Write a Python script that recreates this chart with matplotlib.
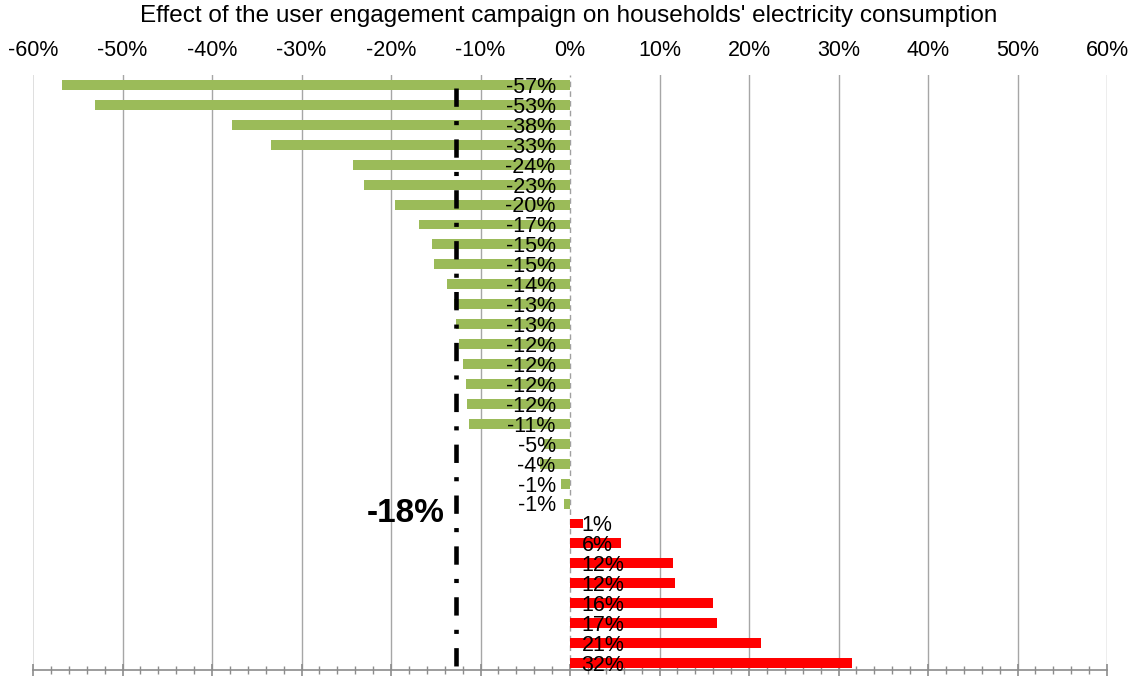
import matplotlib
matplotlib.use("Agg")
import matplotlib.pyplot as plt
from matplotlib.ticker import MultipleLocator, FuncFormatter

plt.rcParams['font.family'] = ['Liberation Sans', 'DejaVu Sans']

# Data (bar lengths in %, and the data labels shown in the chart)
values = [-56.8, -53.1, -37.8, -33.4, -24.2, -23.0, -19.6, -16.9, -15.4, -15.2,
          -13.7, -13.0, -12.7, -12.4, -12.0, -11.6, -11.5, -11.3, -2.9, -3.4,
          -1.0, -0.7, 1.5, 5.7, 11.5, 11.7, 16.0, 16.4, 21.3, 31.5]
labels = ["-57%", "-53%", "-38%", "-33%", "-24%", "-23%", "-20%", "-17%", "-15%", "-15%",
          "-14%", "-13%", "-13%", "-12%", "-12%", "-12%", "-12%", "-11%", "-5%", "-4%",
          "-1%", "-1%", "1%", "6%", "12%", "12%", "16%", "17%", "21%", "32%"]
average_line = -12.7
average_label = "-18%"
title = "Effect of the user engagement campaign on households' electricity consumption"

fig = plt.figure(figsize=(11.33, 6.79), dpi=100)
ax = fig.add_axes([33/1133, 9/679, (1107-33)/1133, (670-75)/679])

pos = list(range(len(values)))
colors = ['#9BBB59' if v < 0 else '#FF0000' for v in values]
ax.barh(pos, values, height=0.5, color=colors, zorder=3)

ax.set_xlim(-60, 60)
ax.set_ylim(len(values) - 1 + 0.35, -0.5)

# gridlines
for g in range(-50, 61, 10):
    if g == 0:
        ax.axvline(0, color='#A0A0A0', lw=1, ls=(0, (4, 3)), zorder=1)
    else:
        ax.axvline(g, color='#A6A6A6', lw=1, zorder=1)
ax.axvline(-60, color='#D9D9D9', lw=1.2, zorder=1)

# data labels
for p, v, t in zip(pos, values, labels):
    if v < 0:
        ax.text(-1.6, p + 0.12, t, ha='right', va='center', fontsize=15.5, zorder=5)
    else:
        ax.text(1.3, p + 0.12, t, ha='left', va='center', fontsize=15.5, zorder=5)

# average line
ax.plot([average_line, average_line], [0.15, 29.15], color='black', lw=3.3,
        ls=(0, (4, 3.1, 0.9, 3.1)), zorder=4, solid_capstyle='butt', dash_capstyle='butt')
ax.text(-18.4, 21.5, average_label, fontsize=24, fontweight='bold', ha='center', va='center')

# axes styling
for s in ['left', 'right', 'top']:
    ax.spines[s].set_visible(False)
ax.spines['bottom'].set_color('#8C8C8C')
ax.spines['bottom'].set_linewidth(1.2)
ax.set_yticks([])
ax.xaxis.set_major_locator(MultipleLocator(10))
ax.xaxis.set_minor_locator(MultipleLocator(2))
ax.xaxis.set_major_formatter(FuncFormatter(lambda x, p: f"{int(round(x))}%"))
ax.tick_params(axis='x', which='major', bottom=True, top=False, labelbottom=False, labeltop=True,
               direction='inout', length=8, color='#8C8C8C', width=1.2, labelsize=15.5, pad=6)
ax.tick_params(axis='x', which='minor', bottom=True, top=False, direction='inout',
               length=6, color='#8C8C8C', width=1)

fig.text(569/1133, 1 - 16/679, title, ha='center', va='center', fontsize=17.5)

fig.savefig('out.png', dpi=100)
